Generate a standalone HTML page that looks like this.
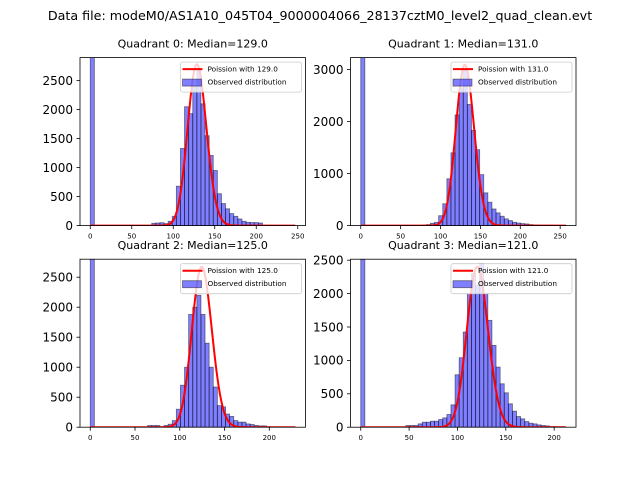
<!DOCTYPE html>
<html><head><meta charset="utf-8"><style>
body{margin:0;background:#fff;}
svg{display:block;font-family:"DejaVu Sans","Liberation Sans",sans-serif;}
</style></head><body>
<svg id="fig" width="640" height="480" viewBox="0 0 640 480">
<text x="320" y="20" text-anchor="middle" font-size="12.7">Data file: modeM0/AS1A10_045T04_9000004066_28137cztM0_level2_quad_clean.evt</text>
</svg>
<script>
// ---- data ----
const quadNames = ["Quadrant 0","Quadrant 1","Quadrant 2","Quadrant 3"];
const medians = [129.0, 131.0, 125.0, 121.0];
const histMax = [247, 257, 229, 212];
const countsQ0 = [3500,0,0,0,0,0,0,0,0,0,0,0,0,0,0,40,45,50,35,75,160,680,1330,2050,1930,2400,2700,2100,1550,1210,950,550,380,290,207,160,115,75,57,52,52,45,5,5,4,4,3,3,2,2];
const countsQ1 = [3500,0,0,0,0,0,0,0,0,0,0,0,0,0,0,10,20,45,64,190,420,900,1400,2130,2650,3000,2330,1830,1460,980,630,450,320,245,180,130,96,64,50,38,32,20,12,10,8,8,6,5,4,3];
const countsQ2 = [3000,0,0,0,0,0,0,0,0,0,0,0,0,0,28,28,28,0,28,50,110,300,700,1000,1880,2000,2200,1880,1400,1000,670,360,340,220,180,110,85,85,55,45,28,22,22,8,6,5,4,3,2,2];
const countsQ3 = [3000,0,0,0,0,0,0,0,0,0,0,25,25,25,50,75,75,90,90,115,140,190,335,785,1040,1425,2000,2300,2125,2450,2000,1600,1225,900,650,515,350,240,160,125,85,60,50,35,25,20,8,8,6,5];
const counts = [countsQ0, countsQ1, countsQ2, countsQ3];
const curvePeaks = [2780, 3090, 2670, 2400];
const yMaxes = [2897, 3231, 2800, 2515];
const yTicksQ0 = [0,500,1000,1500,2000,2500];
const yTicksQ1 = [0,1000,2000,3000];
const yTicksQ2 = [0,500,1000,1500,2000,2500];
const yTicksQ3 = [0,500,1000,1500,2000,2500];
const yTicks = [yTicksQ0, yTicksQ1, yTicksQ2, yTicksQ3];
const xTicksTop = [0,50,100,150,200,250];
const xTicksBottom = [0,50,100,150,200];
const xTicks = [xTicksTop, xTicksTop, xTicksBottom, xTicksBottom];

const NS = "http://www.w3.org/2000/svg";
const fig = document.getElementById("fig");
function mk(tag, attrs, parent){const e=document.createElementNS(NS,tag);for(const k in attrs)e.setAttribute(k,attrs[k]);(parent||fig).appendChild(e);return e;}
function lnFact(k){let s=0;for(let i=2;i<=k;i++)s+=Math.log(i);return s;}
function pmf(k,mu){return Math.exp(k*Math.log(mu)-mu-lnFact(k));}

const boxes = [[80,57.6],[350.5,57.6],[80,259.2],[350.5,259.2]];
const W = 225.5, H = 168;

for (let q=0;q<4;q++){
  const [L,T] = boxes[q];
  const B = T+H, R = L+W;
  const hm = histMax[q];
  const xmin = -0.05*hm, xmax = 1.05*hm;
  const ymax = yMaxes[q];
  const xs = v => L + (v-xmin)/(xmax-xmin)*W;
  const ys = v => B - v/ymax*H;
  const g = mk("g",{});
  
  
  const cid = "clip"+q;
  const cp = mk("clipPath",{id:cid},g); mk("rect",{x:L,y:T,width:W,height:H},cp);
  const title = mk("text",{x:L+W/2,y:T-10,"text-anchor":"middle","font-size":"11"},g);
  title.textContent = quadNames[q]+": Median="+medians[q].toFixed(1);
  
  
  const plot = mk("g",{"clip-path":"url(#"+cid+")"},g);
  const arr = counts[q];
  const bw = hm/arr.length;
  for (let i=0;i<arr.length;i++){
    if (arr[i]<=0) continue;
    const x0 = xs(i*bw), x1 = xs((i+1)*bw);
    const r = mk("rect",{x:x0,y:ys(arr[i]),width:x1-x0,height:B-ys(arr[i]),fill:"rgba(0,0,255,0.5)",stroke:"rgba(0,0,0,0.5)","stroke-width":"0.8"},plot);
    
    
  }
  const mu = medians[q];
  const scale = curvePeaks[q]/pmf(Math.floor(mu),mu);
  let d="";
  for (let k=0;k<=hm;k++){ d += (k?"L":"M")+xs(k).toFixed(2)+","+ys(scale*pmf(k,mu)).toFixed(2); }
  const line = mk("path",{d:d,fill:"none",stroke:"#ff0000","stroke-width":"2","stroke-linejoin":"round"},plot);
  
  
  const frame = mk("rect",{x:L,y:T,width:W,height:H,fill:"none",stroke:"#000","stroke-width":"0.8"},g);
  
  
  for (const t of xTicks[q]){
    const x = xs(t);
    mk("line",{x1:x,y1:B,x2:x,y2:B+3.5,stroke:"#000","stroke-width":"0.8"},g);
    const tl = mk("text",{x:x,y:B+13,"text-anchor":"middle","font-size":"7"},g);
    tl.textContent = t;
    
    
  }
  for (const t of yTicks[q]){
    const y = ys(t);
    mk("line",{x1:L-3.5,y1:y,x2:L,y2:y,stroke:"#000","stroke-width":"0.8"},g);
    const tl = mk("text",{x:L-7,y:y+4.3,"text-anchor":"end","font-size":"12"},g);
    tl.textContent = t;
    
    
  }
  // legend
  const lg = mk("g",{},g);
  
  
  mk("rect",{x:R-125,y:T+4.5,width:121,height:30,rx:2,fill:"rgba(255,255,255,0.8)",stroke:"#ccc","stroke-width":"0.8"},lg);
  mk("line",{x1:R-123,y1:T+11.5,x2:R-103,y2:T+11.5,stroke:"#ff0000","stroke-width":"2"},lg);
  mk("rect",{x:R-123,y:T+21.5,width:19,height:7,fill:"rgba(0,0,255,0.5)",stroke:"rgba(0,0,0,0.5)","stroke-width":"0.8"},lg);
  const t1 = mk("text",{x:R-98,y:T+14,"font-size":"7.3"},lg);
  t1.textContent = "Poission with "+medians[q].toFixed(1);
  
  
  const t2 = mk("text",{x:R-98,y:T+27,"font-size":"7.3"},lg);
  t2.textContent = "Observed distribution";
  
  
}
</script>
</body></html>
